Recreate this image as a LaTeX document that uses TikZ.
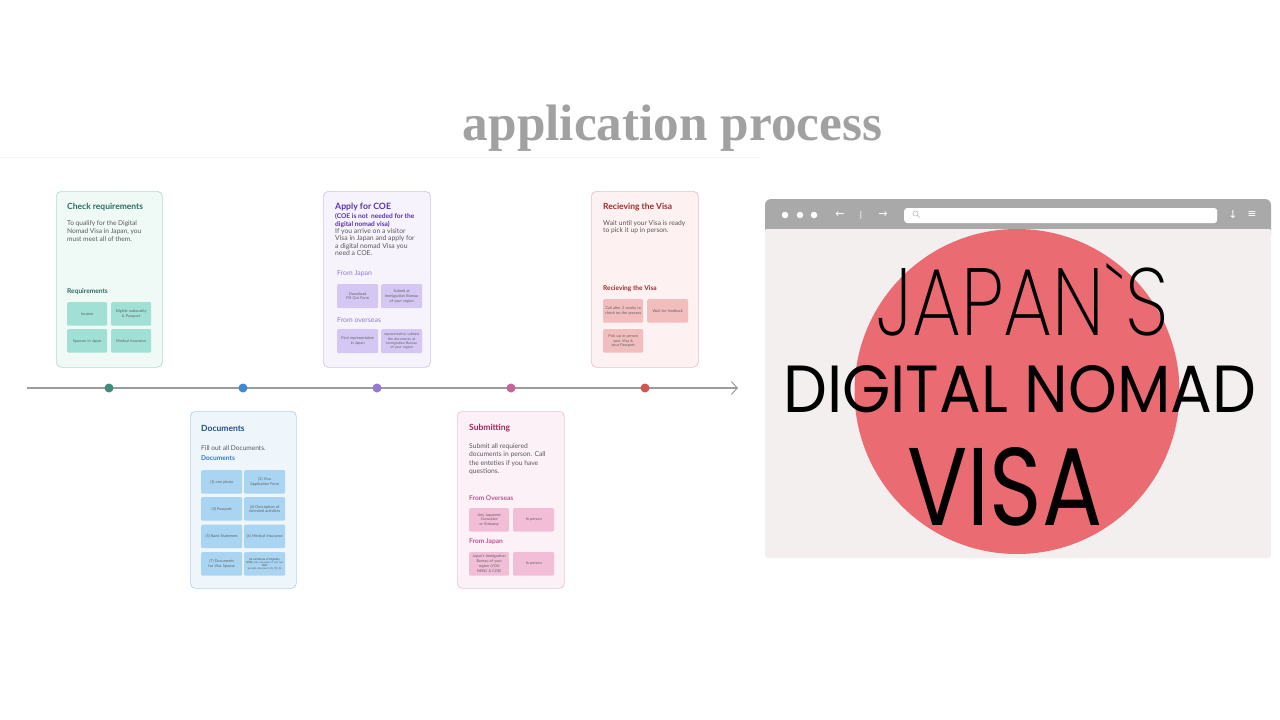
\documentclass[tikz,border=0pt]{standalone}
\usepackage{fontspec}
\usepackage{graphicx}
\setmainfont{Lato}
\newfontfamily\titlefont{Liberation Serif}
\newfontfamily\popreg{Poppins}
\newfontfamily\popthin{Poppins ExtraLight}
\newfontfamily\dejavu{DejaVu Sans}
\usetikzlibrary{arrows.meta}
\newcommand\myNoHyph{\hyphenpenalty 10000 \exhyphenpenalty 10000\relax}
\definecolor{cAfill}{HTML}{EFF9F6}\definecolor{cAline}{HTML}{B0DED3}\definecolor{cAdark}{HTML}{2D6B63}\definecolor{cAbox}{HTML}{A0E0D5}
\definecolor{cBfill}{HTML}{F6F3FD}\definecolor{cBline}{HTML}{D0C4EE}\definecolor{cBdark}{HTML}{5B30B0}\definecolor{cBmid}{HTML}{9079C8}\definecolor{cBbox}{HTML}{D4C7F3}
\definecolor{cCfill}{HTML}{FDF1F1}\definecolor{cCline}{HTML}{EEC2C2}\definecolor{cCdark}{HTML}{A02C2C}\definecolor{cCbox}{HTML}{F1BDBD}
\definecolor{cDfill}{HTML}{EEF6FC}\definecolor{cDline}{HTML}{B2D5EE}\definecolor{cDdark}{HTML}{1D4F86}\definecolor{cDmid}{HTML}{2F7CC0}\definecolor{cDbox}{HTML}{A9D5F2}
\definecolor{cEfill}{HTML}{FCF1F7}\definecolor{cEline}{HTML}{EEC2D9}\definecolor{cEdark}{HTML}{A0285E}\definecolor{cEmid}{HTML}{C8508F}\definecolor{cEbox}{HTML}{F2BDD7}
\definecolor{dotA}{HTML}{3F8B7E}\definecolor{dotB}{HTML}{3D89D3}\definecolor{dotC}{HTML}{9577D6}\definecolor{dotD}{HTML}{C9639C}\definecolor{dotE}{HTML}{D2554F}
\definecolor{tline}{HTML}{9C9C9C}
\definecolor{barcol}{HTML}{A9A9A9}\definecolor{browserbody}{HTML}{F3EFEF}\definecolor{sun}{HTML}{EB6B73}
\begin{document}
\begin{tikzpicture}[x=1pt,y=-1pt,
  card/.style={draw, line width=0.7pt, rounded corners=5pt, anchor=north west, minimum width=106pt, minimum height=176pt},
  sbox/.style={rounded corners=1.2pt, minimum width=40pt, minimum height=23.5pt, inner sep=0.5pt, anchor=north west, align=center, text width=37pt, font=\fontsize{3.8}{4.8}\selectfont\myNoHyph, text=black!62},
  ctitle/.style={anchor=west, inner sep=0pt, font=\bfseries\fontsize{8.5}{9}\selectfont},
  cbody/.style={anchor=north west, inner sep=0pt, align=left, text=black!65, font=\fontsize{6.6}{7.8}\selectfont},
  cline/.style={anchor=west, inner sep=0pt, text=black!65, font=\fontsize{6.6}{7.8}\selectfont},
  csub/.style={anchor=west, inner sep=0pt, font=\bfseries\fontsize{6.6}{7}\selectfont},
  cmid/.style={anchor=west, inner sep=0pt, font=\fontsize{6.9}{7}\selectfont},
  dot/.style={circle, inner sep=0pt, minimum size=9pt},
  icon/.style={text=white, inner sep=0pt, font=\dejavu\fontsize{11}{11}\selectfont},
]
\fill[white] (0,0) rectangle (1280,720);
\useasboundingbox (0,0) rectangle (1280,720);
% faint frame line
\draw[black!4, line width=0.8pt] (0,157) -- (760,157);
% title
\node[anchor=base, inner sep=0pt, text=black!37] (title) at (672.5,140) {\resizebox{419pt}{!}{\titlefont\bfseries application process}};

% timeline
\coordinate (tl0) at (27,388);
\coordinate (tl1) at (738,388);
\draw[tline, line width=1.1pt, -{Straight Barb[length=6pt,width=13pt,line width=1pt]}] (tl0) -- (tl1);
\node[dot, fill=dotA] (dA) at (109,388) {};
\node[dot, fill=dotB] (dB) at (243,388) {};
\node[dot, fill=dotC] (dC) at (377,388) {};
\node[dot, fill=dotD] (dD) at (511,388) {};
\node[dot, fill=dotE] (dE) at (645,388) {};

% card 1: Check requirements
\node[card, fill=cAfill, draw=cAline] (card1) at (56,191) {};
\node[ctitle, text=cAdark] (t1) at (67,207) {Check requirements};
\node[cbody] (b1) at (67,220.5) {To qualify for the Digital\\Nomad Visa in Japan, you\\must meet all of them.};
\node[csub, text=cAdark] (s1) at (67,292) {Requirements};
\node[sbox, fill=cAbox] (r1) at (67,302) {Income};
\node[sbox, fill=cAbox] (r2) at (111,302) {Eligible nationality \& Passport};
\node[sbox, fill=cAbox] (r3) at (67,329) {Sponsor in Japan};
\node[sbox, fill=cAbox] (r4) at (111,329) {Medical insurance};

% card 2: Apply for COE
\node[card, fill=cBfill, draw=cBline, minimum width=107pt] (card2) at (323,191) {};
\node[ctitle, text=cBdark, font=\bfseries\fontsize{8.7}{9}\selectfont] (t2) at (335,206.5) {Apply for COE};
\node[cbody, text=cBdark, font=\bfseries\fontsize{6.6}{7.3}\selectfont] (p2) at (335,213.5) {(COE is not\ \ needed for the\\digital nomad visa)};
\node[cbody, font=\fontsize{6.8}{7.5}\selectfont] (b2) at (335,228) {If you arrive on a visitor\\Visa in Japan and apply for\\a digital nomad Visa you\\need a COE.};
\node[cmid, text=cBmid] (s2a) at (337,274) {From Japan};
\node[sbox, fill=cBbox, minimum width=41pt, minimum height=24pt] (j1) at (337,284) {Download Fill Out Form};
\node[sbox, fill=cBbox, minimum width=41pt, minimum height=24pt] (j2) at (381,284) {Submit at Immigration Bureau of your region};
\node[cmid, text=cBmid] (s2b) at (337,320) {From overseas};
\node[sbox, fill=cBbox, minimum width=41pt, minimum height=24pt] (o1) at (337,329) {Find representative in Japan};
\node[sbox, fill=cBbox, minimum width=41pt, minimum height=24pt, font=\fontsize{3.5}{4.2}\selectfont\myNoHyph] (o2) at (381,329) {representative submits the documents at Immigration Bureau of your region};

% card 3: Recieving the Visa
\node[card, fill=cCfill, draw=cCline, minimum width=107pt] (card3) at (591,191) {};
\node[ctitle, text=cCdark] (t3) at (603,207) {Recieving the Visa};
\node[cbody, font=\fontsize{6.7}{7.4}\selectfont] (b3) at (603,220) {Wait until your Visa is ready\\to pick it up in person.};
\node[csub, text=cCdark] (s3) at (603,289) {Recieving the Visa};
\node[sbox, fill=cCbox] (v1) at (603,299) {Call after 2 weeks to check on the process};
\node[sbox, fill=cCbox, minimum width=41pt] (v2) at (647,299) {Wait for feedback};
\node[sbox, fill=cCbox] (v3) at (603,329) {Pick up in person your Visa \& your Passport};

% card 4: Documents
\node[card, fill=cDfill, draw=cDline, minimum height=177pt] (card4) at (190,411) {};
\node[ctitle, text=cDdark] (t4) at (201,428) {Documents};
\node[cline] (b4) at (201,448) {Fill out all Documents.};
\node[csub, text=cDmid] (s4) at (201,458) {Documents};
\node[sbox, fill=cDbox, minimum width=41pt] (k1) at (201,470) {(1) one photo};
\node[sbox, fill=cDbox, minimum width=41pt] (k2) at (244,470) {(2) Visa Application Form};
\node[sbox, fill=cDbox, minimum width=41pt] (k3) at (201,497) {(3) Passport};
\node[sbox, fill=cDbox, minimum width=41pt] (k4) at (244,497) {(4) Description of intended activities};
\node[sbox, fill=cDbox, minimum width=41pt] (k5) at (201,524.5) {(5) Bank Statement};
\node[sbox, fill=cDbox, minimum width=41pt] (k6) at (244,524.5) {(6) Medical Insurance};
\node[sbox, fill=cDbox, minimum width=41pt] (k7) at (201,552) {(7) Documents for Visa Spouse};
\node[sbox, fill=cDbox, minimum width=41pt, font=\fontsize{2.6}{3.1}\selectfont\myNoHyph] (k8) at (244,552) {\textbf{(8) Certificate of Eligibility (COE)} only necessary if you use\\\textbf{NOT}\\provide document (4), (5), (6)};

% card 5: Submitting
\node[card, fill=cEfill, draw=cEline, minimum width=107pt, minimum height=177pt] (card5) at (457,411) {};
\node[ctitle, text=cEdark] (t5) at (469,428) {Submitting};
\node[cbody, font=\fontsize{6.7}{8.3}\selectfont] (b5) at (469,443.5) {Submit all requiered\\documents in person. Call\\the enteties if you have\\questions.};
\node[cmid, text=cEmid, font=\bfseries\fontsize{6.6}{7}\selectfont] (s5a) at (469,498) {From Overseas};
\node[sbox, fill=cEbox] (e1) at (469,508) {Any Japanese Consulate or Embassy};
\node[sbox, fill=cEbox, minimum width=41pt] (e2) at (513,508) {In person};
\node[cmid, text=cEmid, font=\bfseries\fontsize{6.6}{7}\selectfont] (s5b) at (469,542) {From Japan};
\node[sbox, fill=cEbox] (e3) at (469,552) {Japan's Immigration Bureau of your region (YOU NEED A COE)};
\node[sbox, fill=cEbox, minimum width=41pt] (e4) at (513,552) {In person};

% browser window
\fill[barcol, rounded corners=6pt] (765,199) rectangle (1271,240);
\fill[browserbody, rounded corners=3pt] (765,228) rectangle (1271,558);
\fill[barcol] (765,228) rectangle (1271,229);
\foreach \i/\xx in {1/785,2/800,3/814}{\node[circle, fill=white, inner sep=0pt, minimum size=6.5pt] (bd\i) at (\xx,215) {};}
\node[icon] (back) at (840,215) {←};
\node[icon, font=\dejavu\fontsize{8}{8}\selectfont] (sep) at (861,215) {|};
\node[icon] (fwd) at (883,215) {→};
\node[fill=white, rounded corners=3pt, minimum width=313pt, minimum height=15pt, inner sep=0pt, anchor=west] (search) at (904,215.5) {};
\draw[black!25, line width=0.6pt] (915.5,213.5) circle (2.6pt);
\draw[black!25, line width=0.7pt] (917.4,215.4) -- (919.6,217.6);
\node[icon] (down) at (1233,215) {↓};
\node[icon] (menu) at (1252,215) {≡};

% sun
\fill[sun] (1017,391.5) circle (162.5pt);
\node[anchor=base west, inner sep=0pt] (jp) at (876,335) {\resizebox{292pt}{72pt}{\popthin JAPAN\symbol{96}S}};
\node[anchor=base west, inner sep=0pt] (dn) at (783,412) {\resizebox{473pt}{47pt}{\popreg DIGITAL NOMAD}};
\node[anchor=base west, inner sep=0pt] (vi) at (907,525) {\resizebox{195pt}{78pt}{\popreg VISA}};
\end{tikzpicture}
\end{document}
